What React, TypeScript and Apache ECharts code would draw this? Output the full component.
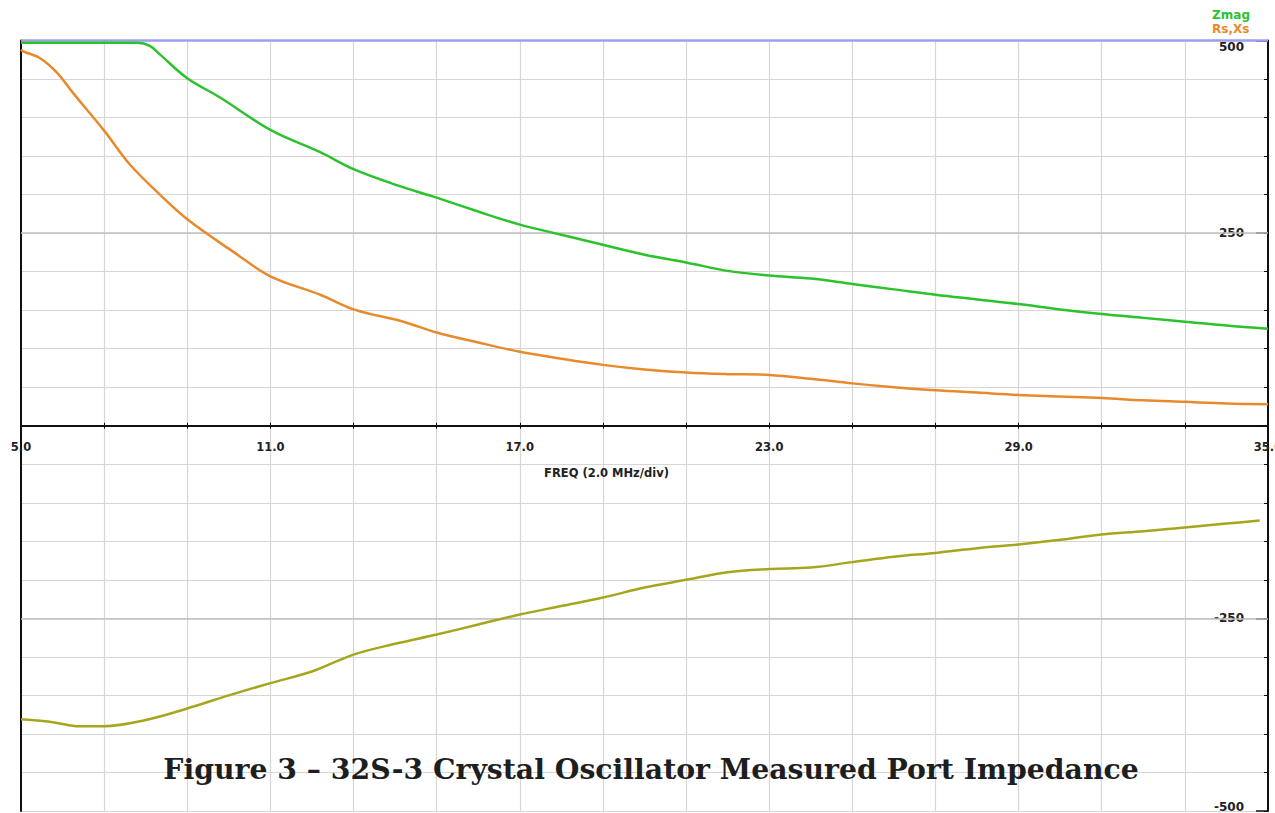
import React, { useEffect, useRef } from 'react';
import * as echarts from 'echarts';

// Frequency (MHz) / value (ohm) pairs
const zmagFreq = [5, 6, 7, 7.8, 8.1, 8.34, 9, 9.79, 11, 12.2, 13, 14, 15, 16, 17, 18, 19, 20, 21, 22, 23, 24, 25, 26, 27, 28, 29, 30, 31, 32, 33, 34, 35];
const zmagVal = [497, 497, 497, 497, 493, 482, 451, 426, 384, 355, 333, 313, 296, 278, 261, 248, 235, 222, 212, 201, 195, 191, 184, 177, 170, 164, 158, 151, 145, 140, 135, 130, 126];

const rsFreq = [5, 5.05, 5.46, 5.87, 6.25, 7, 7.62, 8.34, 9, 10.1, 11, 12.2, 13, 14.2, 15, 16, 17, 18, 19, 20, 21, 22, 23, 24, 25, 26, 27, 28, 29, 30, 31, 32, 33, 34, 35];
const rsVal = [488, 486, 477, 458, 432, 383, 339, 300, 268, 226, 194, 170, 151, 135, 121, 108, 96, 87, 79, 73, 69, 67, 66, 61, 55, 50, 46, 43, 40, 38, 36, 33, 31, 29, 28];

const xsFreq = [5, 5.8, 6.4, 7, 8, 9, 10, 11, 12, 13, 14, 15, 16, 17, 18, 19, 20, 21, 22, 23, 24, 25, 26, 27, 28, 29, 30, 31, 32, 33, 34, 34.8];
const xsVal = [-381, -385, -390, -390, -382, -367, -350, -334, -319, -297, -283, -271, -258, -245, -234, -223, -210, -200, -190, -186, -184, -177, -170, -165, -159, -154, -148, -141, -137, -132, -127, -123];

const xLabelValues = [5, 11, 17, 23, 29, 35];
const yLabelValues = [500, 250, -250, -500];

const titleText = 'Figure 3 – 32S-3 Crystal Oscillator Measured Port Impedance';
const xName = 'FREQ (2.0 MHz/div)';

const GREEN = '#2cc22c';
const ORANGE = '#e88a2c';
const OLIVE = '#a6a61c';
const SANS = '"DejaVu Sans", Verdana, sans-serif';
const AXIS = '#111';
const GRIDC = '#d6d6d6';

const zip = (a: number[], b: number[]) => a.map((v, i) => [v, b[i]]);

const labelFmt = (v: number) => {
  if (yLabelValues.indexOf(v) < 0) return '';
  if (v === 500) return '{top|500}';
  if (v === -500) return '{bot|-500}';
  return String(v);
};

const labelStyle = { fontFamily: SANS, fontWeight: 'bold', fontSize: 11.5, color: '#222' };
const yLabelStyle = { fontFamily: SANS, fontWeight: 'bold', fontSize: 12, color: '#222' };

function yAxesFor(gridIndex: number, min: number, max: number) {
  return [
    {
      type: 'value',
      gridIndex,
      position: 'right',
      min,
      max,
      interval: 50,
      axisLine: { show: true, onZero: false, lineStyle: { color: AXIS, width: 2 } },
      axisTick: { show: true, inside: true, length: 4, lineStyle: { color: AXIS } },
      axisLabel: {
        inside: true,
        margin: 24,
        showMinLabel: true,
        showMaxLabel: true,
        formatter: labelFmt,
        ...yLabelStyle,
        rich: {
          top: { ...yLabelStyle, padding: [12, 0, 0, 0] },
          bot: { ...yLabelStyle, padding: [0, 0, 8, 0] },
        },
      },
      splitLine: { show: true, lineStyle: { color: GRIDC, width: 1.2 } },
    },
    {
      type: 'value',
      gridIndex,
      position: 'right',
      min,
      max,
      interval: 250,
      axisLine: { show: false, onZero: false },
      axisTick: { show: true, inside: true, length: 12, lineStyle: { color: AXIS, width: 1.5 } },
      axisLabel: { show: false },
      splitLine: { show: false },
    },
    {
      type: 'value',
      gridIndex,
      position: 'left',
      min,
      max,
      interval: 250,
      axisLine: { show: true, onZero: false, lineStyle: { color: AXIS, width: 2 } },
      axisTick: { show: false },
      axisLabel: { show: false },
      splitLine: { show: false },
    },
  ];
}

export default function App() {
  const ref = useRef<HTMLDivElement>(null);
  useEffect(() => {
    const chart = echarts.init(ref.current!, null, { renderer: 'svg' });
    const option: any = {
      animation: false,
      backgroundColor: '#ffffff',
      grid: [
        { left: 21, right: 7, top: 40.5, height: 385.25, containLabel: false, outerBoundsMode: 'none' },
        { left: 21, right: 7, top: 425.75, bottom: 2, containLabel: false, outerBoundsMode: 'none' },
      ],
      legend: {
        orient: 'vertical',
        right: 20,
        top: 4,
        itemWidth: 0,
        itemHeight: 0,
        itemGap: 2,
        icon: 'none',
        selectedMode: false,
        textStyle: { fontFamily: SANS, fontWeight: 'bold', fontSize: 12 },
        data: [
          { name: 'Zmag', textStyle: { color: GREEN } },
          { name: 'Rs,Xs', textStyle: { color: ORANGE } },
        ],
      },
      xAxis: [
        {
          type: 'value',
          gridIndex: 0,
          position: 'bottom',
          min: 5,
          max: 35,
          interval: 2,
          axisLine: { onZero: false, lineStyle: { color: AXIS, width: 2 } },
          axisTick: { show: true, length: 3, lineStyle: { color: AXIS, width: 1 } },
          axisLabel: {
            showMinLabel: true,
            showMaxLabel: true,
            formatter: (v: number) => (xLabelValues.indexOf(v) >= 0 ? v.toFixed(1) : ''),
            ...labelStyle,
            margin: 15,
          },
          splitLine: { show: true, lineStyle: { color: GRIDC, width: 1.2 } },
          name: xName,
          nameLocation: 'middle',
          nameGap: 41,
          nameTextStyle: { ...labelStyle, padding: [0, 76, 0, 0] },
        },
        {
          type: 'value',
          gridIndex: 1,
          position: 'top',
          min: 5,
          max: 35,
          interval: 2,
          axisLine: { show: false, onZero: false },
          axisTick: { show: true, length: 3, lineStyle: { color: AXIS, width: 1 } },
          axisLabel: { show: false },
          splitLine: { show: true, lineStyle: { color: GRIDC, width: 1.2 } },
        },
      ],
      yAxis: [...yAxesFor(0, 0, 500), ...yAxesFor(1, -500, 0)],
      series: [
        {
          name: 'Zmag',
          type: 'line',
          xAxisIndex: 0,
          yAxisIndex: 0,
          data: zip(zmagFreq, zmagVal),
          showSymbol: false,
          smooth: 0.35,
          lineStyle: { color: GREEN, width: 2.5 },
          itemStyle: { color: GREEN },
          z: 5,
          markLine: {
            silent: true,
            symbol: 'none',
            label: { show: false },
            data: [
              { yAxis: 250, lineStyle: { color: '#c0c0c0', width: 1.5, type: 'solid' } },
              { yAxis: 500, lineStyle: { color: '#9d9dee', width: 2.5, type: 'solid' } },
            ],
          },
        },
        {
          name: 'Rs,Xs',
          type: 'line',
          xAxisIndex: 0,
          yAxisIndex: 0,
          data: zip(rsFreq, rsVal),
          showSymbol: false,
          smooth: 0.35,
          lineStyle: { color: ORANGE, width: 2.5 },
          itemStyle: { color: ORANGE },
          z: 5,
        },
        {
          name: 'Xs',
          type: 'line',
          xAxisIndex: 1,
          yAxisIndex: 3,
          data: zip(xsFreq, xsVal),
          showSymbol: false,
          smooth: 0.35,
          lineStyle: { color: OLIVE, width: 2.5 },
          itemStyle: { color: OLIVE },
          z: 5,
          markLine: {
            silent: true,
            symbol: 'none',
            label: { show: false },
            data: [{ yAxis: -250, lineStyle: { color: '#c0c0c0', width: 1.5, type: 'solid' } }],
          },
        },
      ],
      graphic: [
        {
          type: 'text',
          x: 651,
          y: 769,
          z: 100,
          style: {
            text: titleText,
            fontFamily: '"DejaVu Serif", serif',
            fontWeight: 'bold',
            fontSize: 28.3,
            fill: '#1e1e1e',
            textAlign: 'center',
            textVerticalAlign: 'middle',
          },
        },
      ],
    };
    chart.setOption(option);
    return () => chart.dispose();
  }, []);
  return (
    <div
      ref={ref}
      style={{ position: 'absolute', left: 0, top: 0, width: 1275, height: 813, background: '#fff' }}
    />
  );
}
